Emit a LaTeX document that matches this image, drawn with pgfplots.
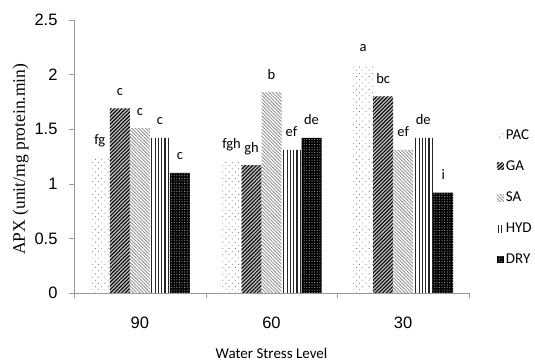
\documentclass[border=0pt]{standalone}
\usepackage{pgfplots}
\pgfplotsset{compat=1.18}
\usepackage{fontspec}
\setmainfont{Liberation Sans}
\newfontfamily\calibri{Carlito}
\newfontfamily\timesf{Liberation Serif}
\usetikzlibrary{patterns,patterns.meta}
\begin{document}
\begin{tikzpicture}
\useasboundingbox (0,0) rectangle (535bp,363bp);
\begin{axis}[
 at={(74bp,70bp)}, anchor=south west,
 width=395bp, height=273bp, scale only axis,
 xmin=-0.5, xmax=2.5, ymin=0, ymax=2.5,
 axis x line*=bottom, axis y line*=left,
 axis line style={-, draw=gray!80},
 tick style={draw=gray!80},
 tick align=outside, major tick length=5bp,
 xtick pos=bottom, ytick pos=left,
 ybar=0pt, bar width=20bp,
 xtick={-0.5,0.5,1.5,2.5}, xticklabels={},
 extra x ticks={0,1,2}, extra x tick labels={90,60,30},
 extra x tick style={major tick length=0pt, x tick label style={anchor=base, yshift=-35bp}},
 ytick={0,0.5,1,1.5,2,2.5},
 /pgf/number format/assume math mode=true,
 tick label style={font=\fontsize{16.5bp}{18bp}\selectfont},
 yticklabel style={anchor=east, xshift=-8bp},
 ylabel={APX (unit/mg protein.min)},
 ylabel style={at={(axis description cs:-0.135,0.49)}, anchor=center, font=\timesf\fontsize{17.5bp}{19bp}\selectfont},
 xlabel={Water Stress Level},
 xlabel style={at={(axis description cs:0.5,0)}, anchor=base, yshift=-65bp, font=\calibri\fontsize{15bp}{17bp}\selectfont},
 nodes near coords, point meta=explicit symbolic,
 every node near coord/.append style={anchor=base, yshift=13bp, font=\calibri\fontsize{14.5bp}{16bp}\selectfont, text=black},
 legend style={at={(1.07,0.35)}, anchor=west, draw=none, fill=none, inner sep=0pt,
   font=\calibri\fontsize{15bp}{17bp}\selectfont, row sep=16bp},
 legend cell align=left,
 legend image code/.code={\path[#1] (0bp,-3.5bp) rectangle (7bp,3.5bp);},
]
\addplot[draw=none, fill=white, postaction={pattern={Dots[distance=4.5bp, angle=45, radius=0.6bp]}, pattern color=gray!100}]
 coordinates {(0,1.24) [fg] (1,1.20) [fgh] (2,2.09) [a]};
\addplot[draw=none, fill=gray!55, postaction={pattern={Lines[angle=45, distance=2.6bp, line width=1bp]}, pattern color=black}]
 coordinates {(0,1.69) [c] (1,1.17) [gh] (2,1.80) [bc]};
\addplot[draw=none, fill=white, postaction={pattern={Lines[angle=-45, distance=2.4bp, line width=0.9bp]}, pattern color=gray!85}]
 coordinates {(0,1.51) [c] (1,1.84) [b] (2,1.31) [ef]};
\addplot[draw=none, fill=white, postaction={pattern={Lines[angle=90, distance=3.3bp, line width=1.1bp]}, pattern color=black!85}]
 coordinates {(0,1.42) [c] (1,1.31) [ef] (2,1.42) [de]};
\addplot[draw=none, fill=black, postaction={pattern={Dots[distance=2.6bp, radius=0.55bp]}, pattern color=gray!70}]
 coordinates {(0,1.10) [c] (1,1.42) [de] (2,0.92) [i]};
\legend{PAC,GA,SA,HYD,DRY}
\end{axis}
\end{tikzpicture}
\end{document}
